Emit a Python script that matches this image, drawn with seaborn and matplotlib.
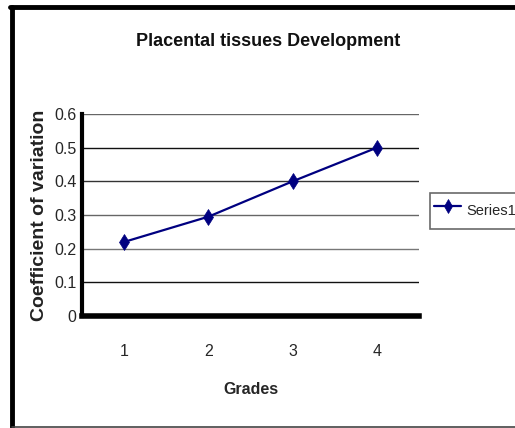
import matplotlib
matplotlib.use("Agg")
import matplotlib.pyplot as plt
from matplotlib.lines import Line2D
from matplotlib.ticker import FixedLocator, NullFormatter
import pandas as pd
import seaborn as sns

# data
grades = [1, 2, 3, 4]
cv_values = [0.22, 0.295, 0.40, 0.50]
y_ticks = [0, 0.1, 0.2, 0.3, 0.4, 0.5, 0.6]
y_tick_labels = ["0", "0.1", "0.2", "0.3", "0.4", "0.5", "0.6"]
x_tick_labels = ["1", "2", "3", "4"]
series_name = "Series1"

df = pd.DataFrame({"Grades": grades, "CV": cv_values, "serie": series_name})

sns.set_style("white")
fonte = ["Liberation Sans Narrow", "Liberation Sans", "DejaVu Sans"]
plt.rcParams["font.family"] = fonte

W, H = 515, 428
larg = 419 - 82
alt = 316 - 114
fig = plt.figure(figsize=(W / 100, H / 100), dpi=100)
ax = fig.add_axes([82 / W, 1 - 316 / H, larg / W, alt / H])

sns.lineplot(data=df, x="Grades", y="CV", hue="serie", palette=["#000080"],
             marker="d", markersize=8.5, markeredgecolor="#000080",
             markeredgewidth=0.5, linewidth=1.6, ax=ax, legend=False)

ax.set_xlim(0.5, 4.5)
ax.set_ylim(0, 0.6)

# eixo y
ax.set_yticks(y_ticks)
ax.set_yticklabels(y_tick_labels, fontsize=11.5)
ax.tick_params(axis="y", direction="out", length=3, width=3, pad=1, color="black")

# eixo x: ticks nas divisoes, rotulos no centro das categorias
ax.xaxis.set_major_locator(FixedLocator([0.5, 1.5, 2.5, 3.5, 4.5]))
ax.xaxis.set_major_formatter(NullFormatter())
ax.xaxis.set_minor_locator(FixedLocator(grades))
ax.set_xticklabels(x_tick_labels, minor=True, fontsize=11.5)
ax.tick_params(axis="x", which="major", direction="out", length=5, width=3, color="black")
ax.tick_params(axis="x", which="minor", length=0, pad=20)

ax.grid(axis="y", color="#222222", linewidth=1)
cores_grade = ["#222222", "#111111", "#777777", "#666666", "#333333", "#111111", "#666666"]
for linha, cor in zip(ax.yaxis.get_gridlines(), cores_grade):
    linha.set_color(cor)

for lado in ["top", "right"]:
    ax.spines[lado].set_visible(False)
ax.spines["left"].set_linewidth(3)
ax.spines["bottom"].set_linewidth(4)
ax.spines["left"].set_color("black")
ax.spines["bottom"].set_color("black")

ax.set_xlabel("Grades", fontsize=11.5, fontweight="bold")
ax.set_ylabel("Coefficient of variation", fontsize=14, fontweight="bold", color="#222222")
ax.yaxis.set_label_coords(-34 / larg, 0.5)
ax.xaxis.set_label_coords(0.5, -66 / alt)

fig.text(268 / W, 1 - 42 / H, "Placental tissues Development", ha="center",
         va="center", fontsize=13, fontweight="bold", color="#111111")

# legenda
handle = Line2D([], [], color="#000080", marker="d", markersize=7,
                markeredgewidth=0.5, linewidth=1.6)
leg = fig.legend([handle], [series_name], loc="upper left",
                 bbox_to_anchor=(430 / W, 1 - 193 / H), fontsize=10.5,
                 frameon=True, fancybox=False, edgecolor="#444444",
                 handlelength=1.9, handleheight=2.6, handletextpad=0.35,
                 borderpad=0.25, borderaxespad=0)
leg.get_frame().set_linewidth(1.2)

# moldura externa
fig.add_artist(Line2D([12 / W, 12 / W], [1 - 7 / H, 1 / H], transform=fig.transFigure,
                      color="black", linewidth=3.5))
fig.add_artist(Line2D([10 / W, 1], [1 - 7 / H, 1 - 7 / H], transform=fig.transFigure,
                      color="black", linewidth=3.5))
fig.add_artist(Line2D([12 / W, 1], [1.5 / H, 1.5 / H], transform=fig.transFigure,
                      color="#444444", linewidth=1.2))

fig.savefig("out.png", dpi=100)
